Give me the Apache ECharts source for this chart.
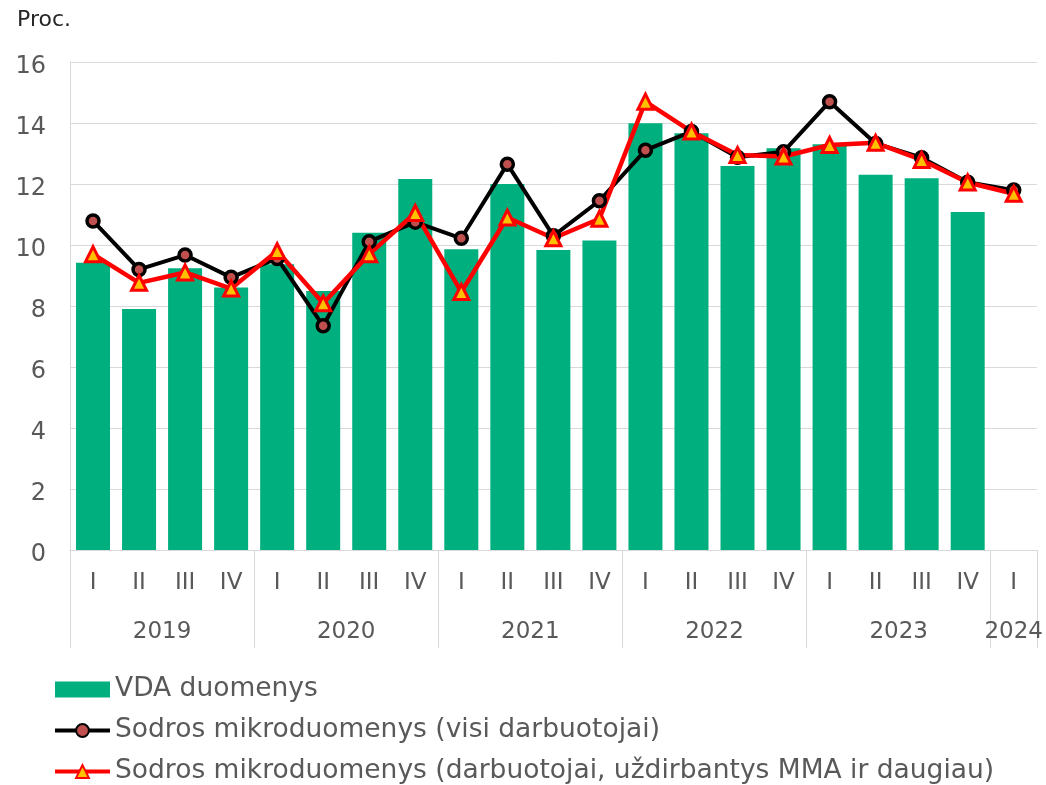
<!DOCTYPE html>
<html>
<head>
<meta charset="utf-8">
<script src="https://cdn.jsdelivr.net/npm/echarts@6/dist/echarts.min.js"></script>
<style>
  html, body { margin: 0; padding: 0; background: #fff; }
  #chart { width: 1046px; height: 785px; }
</style>
</head>
<body>
<div id="chart"></div>
<script>
var quarters = ['I', 'II', 'III', 'IV', 'I', 'II', 'III', 'IV', 'I', 'II', 'III', 'IV',
  'I', 'II', 'III', 'IV', 'I', 'II', 'III', 'IV', 'I'];
var years = ['2019', '2020', '2021', '2022', '2023', '2024'];
var yearCenters = [2, 6, 10, 14, 18, 20.5];
var yearBounds = [0, 4, 8, 12, 16, 20, 21];

var vda = [9.42, 7.9, 9.24, 8.61, 9.37, 8.49, 10.4, 12.16, 9.86, 12.0, 9.84, 10.15,
  13.99, 13.66, 12.59, 13.17, 13.3, 12.3, 12.19, 11.08, null];
var sodraAll = [10.79, 9.2, 9.67, 8.94, 9.56, 7.35, 10.11, 10.75, 10.22, 12.65, 10.3, 11.45,
  13.11, 13.72, 12.88, 13.06, 14.7, 13.33, 12.86, 12.06, 11.8];
var sodraMma = [9.7, 8.76, 9.1, 8.57, 9.8, 8.09, 9.7, 11.05, 8.46, 10.9, 10.22, 10.86,
  14.7, 13.72, 12.95, 12.9, 13.28, 13.35, 12.79, 12.05, 11.68];

var font = 'DejaVu Sans, Verdana, sans-serif';
var gray = '#595959';
var lineGray = '#d9d9d9';

var chartDom = document.getElementById('chart');
var myChart = echarts.init(chartDom);
var option = {
  animation: false,
  textStyle: { fontFamily: font },
  title: {
    text: 'Proc.',
    left: 12,
    top: 4,
    textStyle: { fontSize: 22, fontWeight: 'normal', color: '#262626', fontFamily: font }
  },
  grid: { left: 70, right: 9, top: 62, bottom: 235 },
  legend: {
    orient: 'vertical',
    left: 48,
    top: 670,
    height: 115,
    itemWidth: 55,
    itemHeight: 16,
    itemGap: 12,
    lineStyle: { width: 4 },
    textStyle: { fontSize: 26.5, lineHeight: 29, color: gray },
    data: [
      { name: 'VDA duomenys', icon: 'rect' },
      'Sodros mikroduomenys (visi darbuotojai)',
      'Sodros mikroduomenys (darbuotojai, uždirbantys MMA ir daugiau)'
    ]
  },
  xAxis: [
    {
      type: 'category',
      data: quarters,
      axisLine: { lineStyle: { color: lineGray, width: 1 } },
      axisTick: { show: false },
      axisLabel: { fontSize: 23, color: gray, margin: 22, interval: 0 }
    },
    {
      type: 'value',
      min: 0,
      max: 21,
      position: 'bottom',
      axisLine: { show: false },
      splitLine: { show: false },
      axisTick: {
        show: true,
        customValues: yearBounds,
        length: 98,
        lineStyle: { color: lineGray, width: 1 }
      },
      axisLabel: {
        customValues: yearCenters,
        fontSize: 23,
        color: gray,
        margin: 71,
        formatter: function (v) {
          var i = yearCenters.indexOf(v);
          return i >= 0 ? years[i] : '';
        }
      }
    }
  ],
  yAxis: {
    type: 'value',
    min: 0,
    max: 16,
    interval: 2,
    axisLine: { show: true, lineStyle: { color: lineGray } },
    axisTick: { show: false },
    splitLine: { lineStyle: { color: lineGray } },
    axisLabel: { fontSize: 24, color: gray, margin: 24, verticalAlign: 'top', lineHeight: 10 }
  },
  series: [
    {
      name: 'VDA duomenys',
      type: 'bar',
      data: vda,
      barWidth: 34,
      itemStyle: { color: '#00AF7E' }
    },
    {
      name: 'Sodros mikroduomenys (visi darbuotojai)',
      type: 'line',
      data: sodraAll,
      symbol: 'circle',
      symbolSize: 12,
      lineStyle: { color: '#000000', width: 4 },
      itemStyle: { color: '#C0504D', borderColor: '#000000', borderWidth: 3.5 }
    },
    {
      name: 'Sodros mikroduomenys (darbuotojai, uždirbantys MMA ir daugiau)',
      type: 'line',
      data: sodraMma,
      symbol: 'triangle',
      symbolSize: 15,
      lineStyle: { color: '#FF0000', width: 4.5 },
      itemStyle: { color: '#FFC000', borderColor: '#FF0000', borderWidth: 3 }
    }
  ]
};
option && myChart.setOption(option);
</script>
</body>
</html>
